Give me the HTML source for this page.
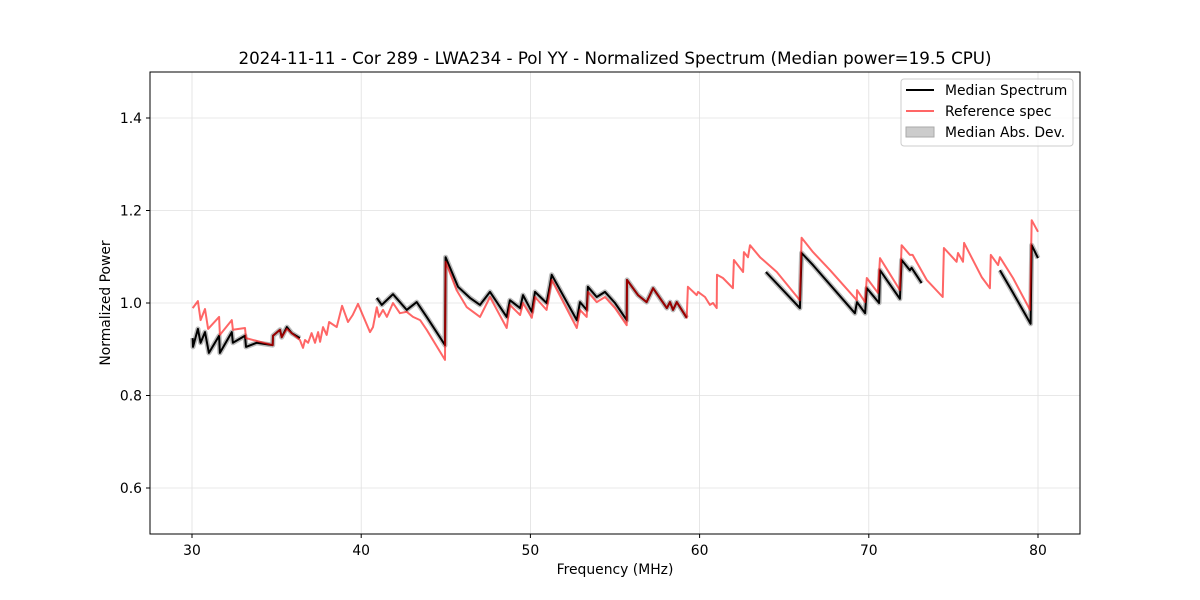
<!DOCTYPE html>
<html><head><meta charset="utf-8"><style>
body{margin:0;background:#fff}
svg{display:block;font-family:"DejaVu Sans","Liberation Sans",sans-serif}
</style></head><body>
<svg id="chart" width="1200" height="600" viewBox="0 0 1200 600">
<rect width="1200" height="600" fill="#fff"/>
<text x="615" y="64" text-anchor="middle" font-size="16.7">2024-11-11 - Cor 289 - LWA234 - Pol YY - Normalized Spectrum (Median power=19.5 CPU)</text>
<g id="grid"></g>
<g id="marks"></g>
<rect x="150" y="72" width="930" height="462" fill="none" stroke="#000" stroke-width="1"/>
<g id="axes" font-size="13.9"></g>
<text x="615" y="574" text-anchor="middle" font-size="13.9">Frequency (MHz)</text>
<text transform="translate(110,303) rotate(-90)" text-anchor="middle" font-size="13.9">Normalized Power</text>
<g>
<rect x="901" y="79" width="172" height="67" rx="3" fill="#fff" fill-opacity="0.8" stroke="#ccc"/>
<g><line x1="906" y1="90" x2="934" y2="90" stroke="#000" stroke-width="2"/><text x="945" y="95" font-size="13.9">Median Spectrum</text></g>
<g><line x1="906" y1="111" x2="934" y2="111" stroke="#ff6666" stroke-width="2"/><text x="945" y="116" font-size="13.9">Reference spec</text></g>
<g><rect x="906" y="127" width="28" height="10" fill="#cccccc" stroke="#aaa"/><text x="945" y="137" font-size="13.9">Median Abs. Dev.</text></g>
</g>
</svg>
<script>
const xTicks=[30,40,50,60,70,80];
const yTicks=[0.6,0.8,1.0,1.2,1.4];
const refFreq=[30.04,30.35,30.51,30.77,30.95,31.60,31.65,32.35,32.42,33.13,33.19,34.02,34.77,34.79,35.20,35.30,35.60,35.89,36.38,36.56,36.68,36.86,37.07,37.27,37.45,37.57,37.74,37.96,38.10,38.55,38.87,39.22,39.50,39.81,40.52,40.70,40.92,41.05,41.29,41.52,41.88,42.29,42.69,43.06,43.48,43.87,44.95,44.99,45.64,46.24,47.02,47.61,48.60,48.79,49.39,49.56,50.08,50.27,50.96,51.16,51.26,52.74,52.93,53.33,53.40,53.92,54.41,55.00,55.69,55.71,56.36,56.87,57.25,58.06,58.25,58.43,58.65,59.24,59.31,59.83,59.91,60.32,60.61,60.79,61.01,61.03,61.38,61.97,62.03,62.57,62.62,62.86,62.98,63.57,64.56,65.93,66.03,66.70,67.71,69.29,69.30,69.78,69.88,70.54,70.66,71.84,71.94,72.43,72.59,73.42,74.37,74.44,75.19,75.27,75.57,75.63,76.67,77.16,77.21,77.64,77.75,78.52,79.53,79.63,80.00];
const refPower=[0.989,1.004,0.963,0.987,0.944,0.970,0.931,0.963,0.942,0.946,0.924,0.916,0.909,0.929,0.942,0.926,0.944,0.935,0.920,0.903,0.920,0.914,0.935,0.914,0.937,0.916,0.948,0.931,0.959,0.948,0.994,0.959,0.974,0.998,0.937,0.948,0.991,0.970,0.985,0.970,1.000,0.978,0.981,0.970,0.963,0.942,0.877,1.089,1.028,0.991,0.970,1.013,0.946,0.996,0.974,1.000,0.968,1.013,0.985,1.028,1.050,0.946,0.985,0.970,1.024,1.002,1.013,0.989,0.952,1.050,1.017,1.002,1.032,0.989,1.002,0.985,1.002,0.968,1.035,1.017,1.024,1.013,0.996,1.000,0.989,1.061,1.054,1.032,1.093,1.067,1.110,1.099,1.125,1.099,1.067,1.006,1.141,1.110,1.071,1.006,1.028,1.002,1.054,1.022,1.097,1.028,1.125,1.104,1.104,1.050,1.013,1.119,1.089,1.108,1.089,1.130,1.056,1.032,1.104,1.082,1.099,1.054,0.985,1.179,1.154];
const medFreqA=[30.04,30.06,30.35,30.51,30.77,31.00,31.60,31.65,32.35,32.42,33.13,33.19,33.82,34.77,34.79,35.20,35.30,35.61,35.89,36.38];
const medPowerA=[0.924,0.905,0.944,0.914,0.937,0.892,0.929,0.892,0.937,0.914,0.929,0.905,0.914,0.909,0.929,0.942,0.926,0.948,0.935,0.924];
const medFreqB=[40.92,41.22,41.88,42.69,43.28,43.87,44.95,44.99,45.72,46.43,47.02,47.61,48.60,48.79,49.39,49.56,50.08,50.27,50.96,51.16,51.26,52.74,52.93,53.33,53.40,53.92,54.41,55.00,55.69,55.71,56.36,56.87,57.25,58.06,58.25,58.43,58.65,59.24];
const medPowerB=[1.011,0.996,1.019,0.985,1.002,0.970,0.909,1.099,1.035,1.011,0.996,1.024,0.970,1.006,0.989,1.017,0.981,1.024,1.000,1.039,1.061,0.963,1.002,0.985,1.035,1.013,1.024,1.000,0.963,1.050,1.017,1.002,1.032,0.989,1.002,0.985,1.002,0.968];
const medFreqC=[63.92,65.93,66.03,66.70,69.18,69.30,69.78,69.88,70.61,70.66,71.84,71.94,72.43,72.53,73.12];
const medPowerC=[1.067,0.989,1.108,1.082,0.978,1.002,0.978,1.032,1.000,1.071,1.009,1.093,1.071,1.076,1.043];
const medFreqD=[77.75,78.52,79.56,79.63,80.00];
const medPowerD=[1.071,1.022,0.955,1.125,1.097];

const NS='http://www.w3.org/2000/svg';
const X=f=>192+(f-30)*16.92;
const Y=v=>303-(v-1.0)*462.5;
function mk(tag,attrs,parent){const e=document.createElementNS(NS,tag);for(const k in attrs)e.setAttribute(k,attrs[k]);parent.appendChild(e);return e;}
const grid=document.getElementById('grid'),axes=document.getElementById('axes'),marks=document.getElementById('marks');
xTicks.forEach(t=>{
  const g=mk('line',{x1:X(t),x2:X(t),y1:72,y2:534,stroke:'#e0e0e0','stroke-width':0.8},grid);
  
  
  mk('line',{x1:X(t),x2:X(t),y1:534,y2:538,stroke:'#000'},axes);
  const l=mk('text',{x:X(t),y:555,'text-anchor':'middle'},axes);l.textContent=t;
  
  
});
yTicks.forEach(t=>{
  const g=mk('line',{x1:150,x2:1080,y1:Y(t),y2:Y(t),stroke:'#e0e0e0','stroke-width':0.8},grid);
  
  
  mk('line',{x1:146,x2:150,y1:Y(t),y2:Y(t),stroke:'#000'},axes);
  const l=mk('text',{x:142,y:Y(t)+5,'text-anchor':'end'},axes);l.textContent=t.toFixed(1);
  
  
});
function pts(fs,vs){return fs.map((f,i)=>X(f).toFixed(1)+','+Y(vs[i]).toFixed(1)).join(' ');}
[[medFreqA,medPowerA],[medFreqB,medPowerB],[medFreqC,medPowerC],[medFreqD,medPowerD]].forEach(([f,v])=>{
  const b=mk('polyline',{points:pts(f,v),fill:'none',stroke:'#bbbbbb','stroke-width':5,'stroke-linejoin':'round'},marks);
  
  
  const m=mk('polyline',{points:pts(f,v),fill:'none',stroke:'#000','stroke-width':2,'stroke-linejoin':'round'},marks);
  
  
});
const r=mk('polyline',{points:pts(refFreq,refPower),fill:'none',stroke:'#ff0000','stroke-opacity':0.6,'stroke-width':2,'stroke-linejoin':'round'},marks);


</script>
</body></html>
